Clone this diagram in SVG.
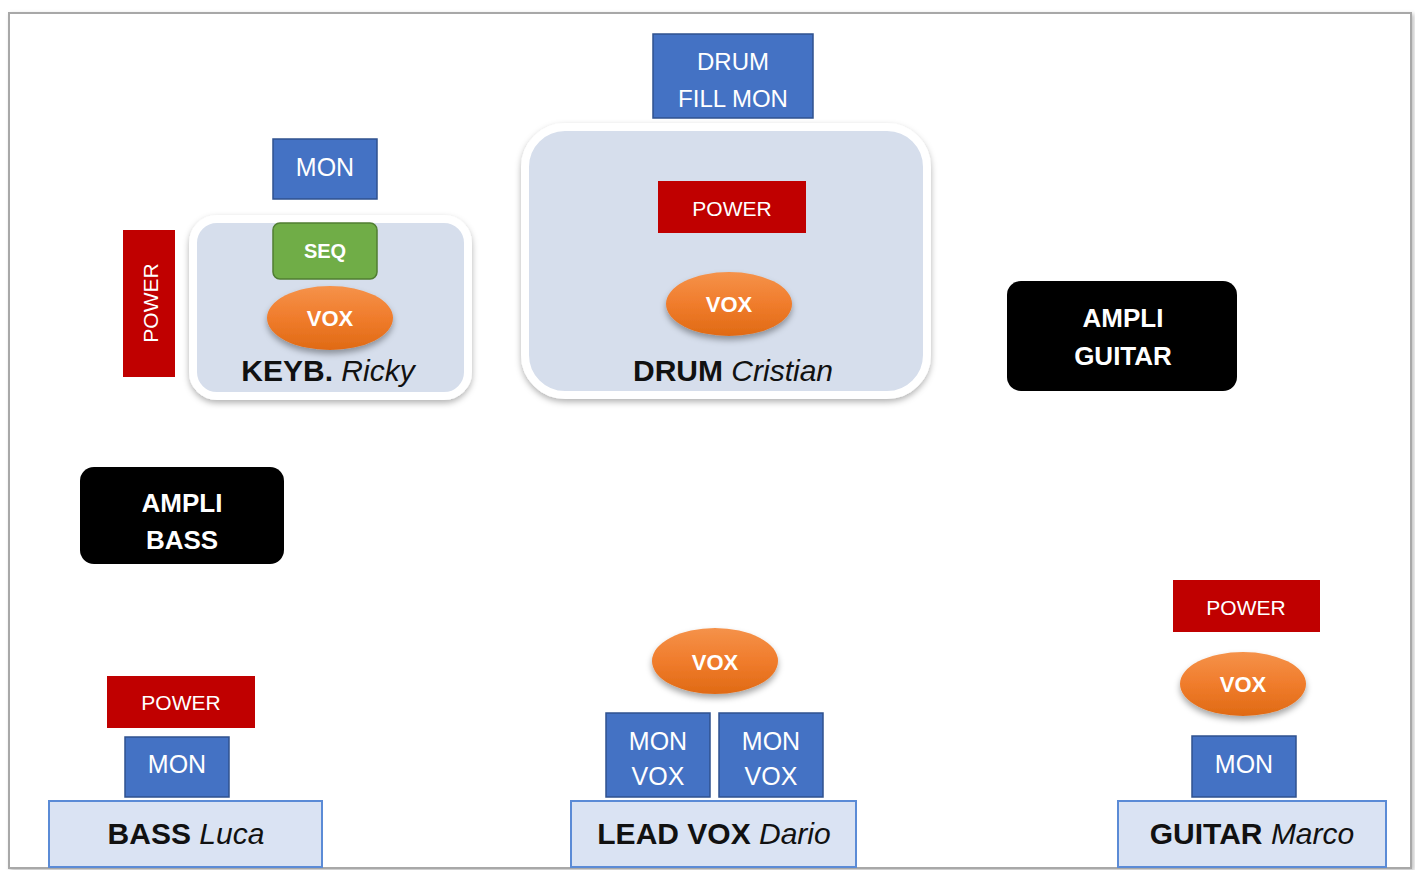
<svg xmlns="http://www.w3.org/2000/svg" width="1415" height="870" viewBox="0 0 1415 870">
<style>
.t{font-family:"Liberation Sans",Arial,sans-serif;text-anchor:middle}
.w{fill:#fff}
.b{font-weight:bold}
.i{font-style:italic;font-weight:normal}
.mon{fill:#4472C4;stroke:#2F528F;stroke-width:1.5}
.pow{fill:#C00000}
.amp{fill:#000}
.zone{fill:#D6DEEC;stroke:#fff;stroke-width:8;filter:url(#sh)}
.base{fill:#DAE3F3;stroke:#5B8BD6;stroke-width:2}
.vox{fill:url(#og);filter:url(#sh2)}
.name{fill:#111;font-size:30px}
</style>
<defs>
<linearGradient id="og" x1="0" y1="0" x2="0" y2="1">
<stop offset="0" stop-color="#F5924A"/>
<stop offset="0.5" stop-color="#F07C2C"/>
<stop offset="1" stop-color="#E06A14"/>
</linearGradient>
<filter id="sh" x="-10%" y="-10%" width="120%" height="125%">
<feDropShadow dx="0" dy="3" stdDeviation="3" flood-color="#000" flood-opacity="0.3"/>
</filter>
<filter id="sh2" x="-20%" y="-20%" width="140%" height="150%">
<feDropShadow dx="0" dy="4" stdDeviation="3" flood-color="#000" flood-opacity="0.35"/>
</filter>
<filter id="fsh" x="-5%" y="-5%" width="110%" height="110%">
<feDropShadow dx="2" dy="2" stdDeviation="2" flood-color="#000" flood-opacity="0.25"/>
</filter>
</defs>
<rect width="1415" height="870" fill="#fff"/>
<rect id="frame" x="9" y="13" width="1402" height="855" fill="#fff" stroke="#A8A8A8" stroke-width="2" filter="url(#fsh)"/>

<g id="connectors"></g>

<g id="keyb">
<rect class="zone" x="193" y="219" width="275" height="177" rx="24"/>
<rect class="mon" x="273" y="139" width="104" height="60"/>
<text class="t w" x="325" y="176" font-size="25">MON</text>
<rect x="273" y="223" width="104" height="56" rx="7" fill="#70AD47" stroke="#507E32" stroke-width="1.5"/>
<text class="t w b" x="325" y="258" font-size="20">SEQ</text>
<ellipse class="vox" cx="330" cy="318" rx="63" ry="32"/>
<text class="t w b" x="330" y="326" font-size="22">VOX</text>
<text class="t name" x="328" y="381" font-size="29"><tspan class="b">KEYB.</tspan> <tspan class="i">Ricky</tspan></text>
</g>

<g id="keyb-power">
<rect class="pow" x="123" y="230" width="52" height="147"/>
<text class="t w" transform="translate(157.5 303) rotate(-90)" x="0" y="0" font-size="21">POWER</text>
</g>

<g id="drum">
<rect class="zone" x="525" y="127" width="402" height="268" rx="40"/>
<rect class="mon" x="653" y="34" width="160" height="84"/>
<text class="t w" x="733" y="70" font-size="24">DRUM</text>
<text class="t w" x="733" y="107" font-size="24">FILL MON</text>
<rect class="pow" x="658" y="181" width="148" height="52"/>
<text class="t w" x="732" y="215.5" font-size="21">POWER</text>
<ellipse class="vox" cx="729" cy="304" rx="63" ry="32"/>
<text class="t w b" x="729" y="312" font-size="22">VOX</text>
<text class="t name" x="733" y="381" font-size="32"><tspan class="b">DRUM</tspan> <tspan class="i">Cristian</tspan></text>
</g>

<g id="ampli-guitar">
<rect class="amp" x="1007" y="281" width="230" height="110" rx="14"/>
<text class="t w b" x="1123" y="326.5" font-size="26">AMPLI</text>
<text class="t w b" x="1123" y="365" font-size="26">GUITAR</text>
</g>

<g id="ampli-bass">
<rect class="amp" x="80" y="467" width="204" height="97" rx="14"/>
<text class="t w b" x="182" y="512" font-size="26">AMPLI</text>
<text class="t w b" x="182" y="549" font-size="26">BASS</text>
</g>

<g id="bass">
<rect class="pow" x="107" y="676" width="148" height="52"/>
<text class="t w" x="181" y="709.5" font-size="21">POWER</text>
<rect class="mon" x="125" y="737" width="104" height="60"/>
<text class="t w" x="177" y="773" font-size="25">MON</text>
<rect class="base" x="49" y="801" width="273" height="66"/>
<text class="t name" x="186" y="844" font-size="29"><tspan class="b">BASS</tspan> <tspan class="i">Luca</tspan></text>
</g>

<g id="leadvox">
<ellipse class="vox" cx="715" cy="661" rx="63" ry="33"/>
<text class="t w b" x="715" y="670" font-size="22">VOX</text>
<rect class="mon" x="606" y="713" width="104" height="84"/>
<text class="t w" x="658" y="750" font-size="25">MON</text>
<text class="t w" x="658" y="785" font-size="25">VOX</text>
<rect class="mon" x="719" y="713" width="104" height="84"/>
<text class="t w" x="771" y="750" font-size="25">MON</text>
<text class="t w" x="771" y="785" font-size="25">VOX</text>
<rect class="base" x="571" y="801" width="285" height="66"/>
<text class="t name" x="714" y="844" font-size="31"><tspan class="b">LEAD VOX</tspan> <tspan class="i">Dario</tspan></text>
</g>

<g id="guitar">
<rect class="pow" x="1173" y="580" width="147" height="52"/>
<text class="t w" x="1246" y="614.5" font-size="21">POWER</text>
<ellipse class="vox" cx="1243" cy="684" rx="63" ry="32"/>
<text class="t w b" x="1243" y="692" font-size="22">VOX</text>
<rect class="mon" x="1192" y="736" width="104" height="61"/>
<text class="t w" x="1244" y="773" font-size="25">MON</text>
<rect class="base" x="1118" y="801" width="268" height="66"/>
<text class="t name" x="1252" y="844" font-size="31.5"><tspan class="b">GUITAR</tspan> <tspan class="i">Marco</tspan></text>
</g>
</svg>
